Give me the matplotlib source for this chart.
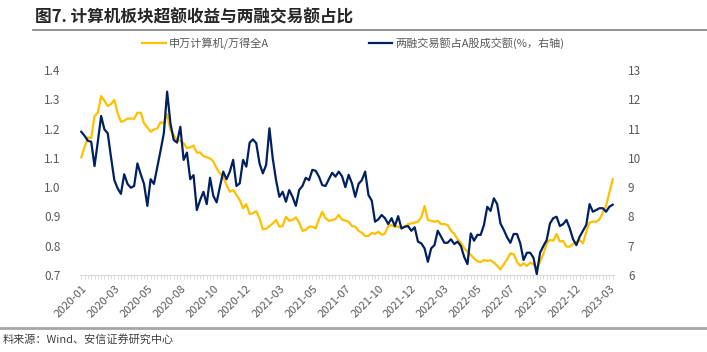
## 计算机板块超额收益与两融交易额占比
## plot.py

import numpy as np
import matplotlib
matplotlib.use("Agg")
from matplotlib import pyplot as plt
from matplotlib.lines import Line2D
from matplotlib.ticker import FixedLocator, FormatStrFormatter

plt.rcParams['font.family'] = ['Noto Sans CJK SC', 'DejaVu Sans']

# ------------------------------- #
# Data (weekly)
# ------------------------------- #

# 申万计算机/万得全A (left axis)
excess = [
    1.102, 1.138, 1.170, 1.167, 1.243, 1.254, 1.311, 1.295, 1.277, 1.284,
    1.298, 1.252, 1.223, 1.227, 1.234, 1.234, 1.234, 1.254, 1.254, 1.218,
    1.204, 1.189, 1.197, 1.200, 1.222, 1.218, 1.250, 1.195, 1.178, 1.159,
    1.159, 1.150, 1.133, 1.136, 1.142, 1.118, 1.118, 1.106, 1.102, 1.098,
    1.088, 1.064, 1.047, 1.034, 1.007, 0.984, 0.990, 0.973, 0.956, 0.928,
    0.942, 0.908, 0.911, 0.918, 0.893, 0.856, 0.858, 0.867, 0.876, 0.888,
    0.865, 0.867, 0.899, 0.885, 0.888, 0.897, 0.879, 0.851, 0.854, 0.865,
    0.865, 0.859, 0.890, 0.916, 0.894, 0.885, 0.888, 0.891, 0.905, 0.889,
    0.886, 0.881, 0.867, 0.865, 0.851, 0.844, 0.833, 0.833, 0.844, 0.840,
    0.848, 0.837, 0.842, 0.867, 0.870, 0.865, 0.865, 0.859, 0.865, 0.874,
    0.876, 0.879, 0.882, 0.897, 0.936, 0.888, 0.885, 0.882, 0.885, 0.874,
    0.874, 0.870, 0.851, 0.840, 0.822, 0.810, 0.791, 0.780, 0.768, 0.757,
    0.747, 0.744, 0.751, 0.748, 0.750, 0.742, 0.732, 0.719, 0.737, 0.753,
    0.774, 0.771, 0.745, 0.731, 0.740, 0.731, 0.742, 0.737, 0.723, 0.745,
    0.772, 0.808, 0.820, 0.817, 0.840, 0.814, 0.816, 0.797, 0.797, 0.806,
    0.813, 0.819, 0.808, 0.848, 0.879, 0.882, 0.882, 0.890, 0.913, 0.936,
    0.981, 1.027,
]

# 两融交易额占A股成交额 % (right axis)
margin_share = [
    10.89, 10.75, 10.58, 10.55, 9.72, 10.55, 11.43, 10.97, 10.84, 10.02,
    9.24, 8.96, 8.77, 9.44, 9.11, 8.98, 9.04, 9.81, 9.44, 9.11,
    8.36, 9.27, 9.11, 9.68, 10.24, 10.84, 12.26, 11.18, 10.61, 10.52,
    11.06, 9.93, 10.18, 9.27, 9.41, 8.22, 8.56, 8.84, 8.42, 9.32,
    8.70, 8.48, 9.02, 9.53, 9.27, 9.53, 9.93, 9.04, 9.13, 9.93,
    9.70, 10.52, 10.63, 10.50, 9.81, 9.47, 9.76, 11.01, 9.98, 9.24,
    8.67, 8.84, 8.50, 8.90, 8.67, 8.36, 8.90, 9.04, 9.32, 9.24,
    9.59, 9.56, 9.36, 9.07, 9.04, 9.27, 9.49, 9.36, 9.53, 9.37,
    9.00, 9.42, 9.13, 8.67, 9.11, 9.24, 9.53, 8.73, 8.54, 7.82,
    7.90, 8.05, 7.94, 7.74, 7.94, 7.67, 8.01, 7.59, 7.65, 7.67,
    7.51, 7.63, 7.14, 7.08, 6.91, 6.45, 6.91, 7.02, 7.51, 7.31,
    7.10, 7.10, 7.22, 7.06, 7.14, 6.99, 6.62, 6.37, 7.42, 7.17,
    7.37, 7.37, 7.71, 8.33, 8.19, 8.62, 8.42, 7.76, 7.54, 7.29,
    7.10, 7.40, 7.40, 7.08, 6.51, 6.76, 6.76, 6.59, 6.03, 6.76,
    6.99, 7.19, 7.76, 7.94, 7.99, 7.67, 7.74, 7.88, 7.59, 7.22,
    7.02, 7.31, 7.51, 7.71, 8.42, 8.16, 8.22, 8.28, 8.28, 8.16,
    8.33, 8.40,
]

# x tick labels, one every 10 weeks
tick_labels = [
    "2020-01", "2020-03", "2020-05", "2020-08", "2020-10", "2020-12",
    "2021-03", "2021-05", "2021-07", "2021-10", "2021-12", "2022-03",
    "2022-05", "2022-07", "2022-10", "2022-12", "2023-03",
]

series_names = ["申万计算机/万得全A", "两融交易额占A股成交额(%，右轴)"]

# ------------------------------- #
# Figure
# ------------------------------- #
W, H = 707, 352
fig = plt.figure(figsize=(W / 100, H / 100), dpi=100)
ax = fig.add_axes([80 / W, 1 - 275 / H, (614 - 80) / W, 205 / H])
ax2 = ax.twinx()

x = np.arange(len(excess))
l1, = ax.plot(x, excess, color="#FFC000", lw=1.6, solid_joinstyle="round")
l2, = ax2.plot(x, margin_share, color="#002060", lw=1.6, solid_joinstyle="round")

ax.set_xlim(-0.4, len(excess) - 0.6)
ax.set_ylim(0.7, 1.4)
ax2.set_ylim(6, 13)
ax.set_yticks(np.arange(0.7, 1.401, 0.1))
ax.yaxis.set_major_formatter(FormatStrFormatter("%.1f"))
ax2.set_yticks(np.arange(6, 14, 1))

# Spines: only a light bottom axis
for a in (ax, ax2):
    for s in a.spines.values():
        s.set_visible(False)
ax.spines["bottom"].set_visible(True)
ax.spines["bottom"].set_color("#d9d9d9")
ax.spines["bottom"].set_linewidth(0.8)

grey = "#595959"
ax.tick_params(axis="y", length=0, pad=14, labelsize=8.5, labelcolor=grey)
ax2.tick_params(axis="y", length=0, pad=10, labelsize=8.5, labelcolor=grey)

# x ticks: label every 10 weeks, small tick for every week
ax.xaxis.set_major_locator(FixedLocator(np.arange(0, 10 * len(tick_labels), 10)))
ax.xaxis.set_minor_locator(FixedLocator(x))
ax.set_xticklabels(tick_labels, rotation=45, ha="right", va="top",
                   rotation_mode="anchor")
ax.tick_params(axis="x", which="both", direction="out", length=3,
               color="#d9d9d9", width=0.6, pad=3, labelsize=8, labelcolor=grey)

# Legend above the plot
fig.legend([l1, l2], series_names, loc="center", ncol=2,
           bbox_to_anchor=(0.5, 1 - 43 / H), frameon=False, fontsize=8,
           handlelength=2.1, columnspacing=9.0, handletextpad=0.3,
           labelcolor=grey)

# Title, rules and source
fig.text(35 / W, 1 - 17 / H, "图7. 计算机板块超额收益与两融交易额占比",
         fontsize=12, fontweight="bold", color="#262626", va="center")
fig.add_artist(Line2D([33 / W, 1], [1 - 30 / H] * 2, color="#7f7f7f", lw=1.2))
fig.add_artist(Line2D([0, 1], [1 - 328 / H] * 2, color="#a6a6a6", lw=2.0))
fig.text(3 / W, 1 - 339 / H, "料来源：Wind、安信证券研究中心",
         fontsize=8, color="#404040", va="center", style="italic")

fig.savefig("out.png", dpi=100)
